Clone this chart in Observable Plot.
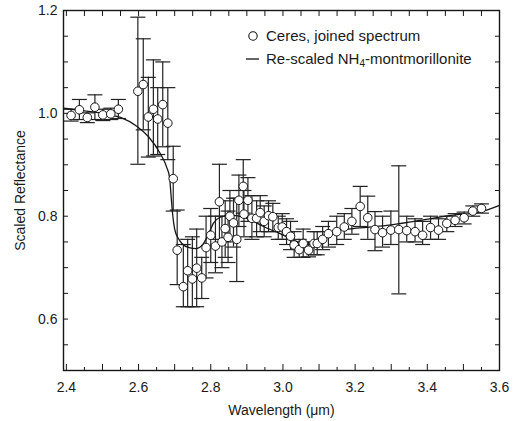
<!DOCTYPE html>
<html><head><meta charset="utf-8">
<script src="https://cdn.jsdelivr.net/npm/d3@7"></script>
<script src="https://cdn.jsdelivr.net/npm/@observablehq/plot@0.6"></script>
<style>
body{margin:0;background:#fff;font-family:"Liberation Sans",Arial,Helvetica,sans-serif;}
#wrap{position:relative;width:514px;height:421px;}
#legend{position:absolute;left:246px;top:24px;font-size:15px;color:#1a1a1a;line-height:23px;}
#legend .row{display:flex;align-items:center;white-space:nowrap;}
#legend svg{margin-right:4px;flex:none;}
#legend sub{font-size:10px;vertical-align:-3px;line-height:0;}
</style></head><body>
<div id="wrap">
  <div id="legend">
    <div class="row"><svg width="16" height="12"><circle cx="7" cy="6" r="4.2" fill="white" stroke="#111" stroke-width="1.1"/></svg><span>Ceres, joined spectrum</span></div>
    <div class="row"><svg width="16" height="12"><line x1="0" y1="6" x2="13" y2="6" stroke="#111" stroke-width="1.3"/></svg><span>Re-scaled NH<sub>4</sub>-montmorillonite</span></div>
  </div>
</div>
<script>
// Ceres joined spectrum (wavelength in µm, scaled reflectance, error bar low/high)
const wavelength = [2.413,2.436,2.458,2.479,2.501,2.523,2.544,
  2.598,2.613,2.627,2.641,2.653,2.667,2.681,2.696,
  2.707,2.724,2.736,2.749,2.761,2.775,2.787,
  2.800,2.813,2.824,2.831,2.840,2.848,2.853,2.863,2.872,2.878,2.890,2.892,2.903,2.914,2.927,2.937,2.948,2.960,2.972,2.987,
  2.998,3.010,3.021,3.031,3.045,3.056,3.071,3.086,3.095,3.110,3.126,3.149,3.170,3.191,
  3.214,3.235,3.255,3.276,3.299,3.321,3.343,3.366,3.387,3.409,3.431,3.454,3.477,3.502,3.526,3.550];
const reflectance = [0.996,1.007,0.992,1.012,0.997,0.999,1.008,
  1.043,1.056,0.993,1.008,0.989,1.017,0.981,0.873,
  0.734,0.663,0.694,0.678,0.699,0.680,0.739,
  0.763,0.742,0.828,0.750,0.776,0.759,0.800,0.787,0.755,0.831,0.858,0.804,0.831,0.796,0.796,0.807,0.790,0.801,0.799,0.778,
  0.779,0.770,0.761,0.744,0.735,0.747,0.734,0.747,0.747,0.755,0.766,0.770,0.779,0.790,
  0.819,0.797,0.774,0.768,0.773,0.774,0.772,0.770,0.763,0.778,0.773,0.786,0.792,0.797,0.810,0.815];
const errLow = [0.985,0.988,0.982,0.988,0.986,0.988,0.990,
  0.901,0.968,0.915,0.917,0.920,0.935,0.910,0.810,
  0.667,0.624,0.624,0.624,0.624,0.640,0.680,
  0.710,0.690,0.755,0.700,0.720,0.710,0.750,0.740,0.673,0.780,0.806,0.760,0.790,0.755,0.760,0.770,0.760,0.770,0.770,0.755,
  0.755,0.745,0.735,0.720,0.720,0.720,0.721,0.725,0.725,0.735,0.740,0.745,0.755,0.765,
  0.780,0.755,0.733,0.740,0.745,0.649,0.750,0.750,0.745,0.755,0.755,0.770,0.780,0.785,0.800,0.806];
const errHigh = [1.008,1.027,1.001,1.036,1.008,1.010,1.027,
  1.187,1.145,1.070,1.104,1.050,1.100,1.050,0.936,
  0.812,0.745,0.755,0.760,0.775,0.720,0.800,
  0.815,0.800,0.901,0.800,0.830,0.810,0.850,0.835,0.835,0.880,0.910,0.850,0.875,0.840,0.830,0.840,0.820,0.830,0.825,0.800,
  0.805,0.795,0.790,0.770,0.755,0.775,0.750,0.770,0.770,0.780,0.790,0.800,0.805,0.815,
  0.858,0.839,0.809,0.800,0.810,0.898,0.800,0.795,0.790,0.800,0.795,0.800,0.805,0.808,0.820,0.824];

// Re-scaled NH4-montmorillonite curve
const curveWavelength = [2.392,2.45,2.50,2.55,2.595,2.627,2.66,2.678,2.686,2.69,2.695,2.70,2.71,2.72,2.74,2.76,2.78,2.798,2.807,2.826,2.853,2.90,2.946,2.992,3.038,3.066,3.094,3.121,3.149,3.195,3.288,3.38,3.472,3.546,3.60];
const curveReflectance = [1.010,1.005,1.000,0.992,0.975,0.955,0.922,0.895,0.875,0.84,0.80,0.775,0.757,0.747,0.739,0.737,0.747,0.772,0.786,0.798,0.802,0.796,0.780,0.766,0.751,0.745,0.748,0.760,0.772,0.776,0.782,0.792,0.802,0.808,0.821];

// Axis ticks
const xTickLabels = [2.4,2.6,2.8,3.0,3.2,3.4,3.6];
const xMajorTicks = [2.4,2.5,2.6,2.7,2.8,2.9,3.0,3.1,3.2,3.3,3.4,3.5];
const xMinorTicks = [2.45,2.55,2.65,2.75,2.85,2.95,3.05,3.15,3.25,3.35,3.45,3.55];
const yTickLabels = [0.6,0.8,1.0,1.2];
const yTicks = [0.55,0.6,0.65,0.7,0.75,0.8,0.85,0.9,0.95,1.0,1.05,1.1,1.15];

const data = wavelength.map((w, i) => ({w, r: reflectance[i], lo: errLow[i], hi: errHigh[i]}));
const curve = curveWavelength.map((w, i) => ({w, r: curveReflectance[i]}));

const capSymbol = {draw(ctx, size) { const h = Math.sqrt(size / Math.PI); ctx.moveTo(-h, 0); ctx.lineTo(h, 0); }};
const ink = "#161616";

const chart = Plot.plot({
  width: 514, height: 421,
  marginLeft: 63, marginRight: 15, marginTop: 10, marginBottom: 51,
  style: {fontFamily: '"Liberation Sans", Arial, Helvetica, sans-serif', fontSize: "14px", color: "#1a1a1a", background: "white"},
  x: {domain: [2.392, 3.6]},
  y: {domain: [0.5, 1.2]},
  marks: [
    Plot.ruleX(data, {x: "w", y1: "lo", y2: "hi", stroke: "#222", strokeWidth: 1.2}),
    Plot.dot(data, {x: "w", y: "hi", symbol: capSymbol, r: 7.5, fill: "none", stroke: "#222", strokeWidth: 1.2}),
    Plot.dot(data, {x: "w", y: "lo", symbol: capSymbol, r: 7.5, fill: "none", stroke: "#222", strokeWidth: 1.2}),
    Plot.line(curve, {x: "w", y: "r", curve: "monotone-x", stroke: ink, strokeWidth: 1.3}),
    Plot.dot(data, {x: "w", y: "r", r: 4.3, fill: "white", stroke: ink, strokeWidth: 1}),
    Plot.axisX(xMajorTicks, {anchor: "bottom", tickSize: -6, fill: "none", label: null, stroke: ink}),
    Plot.axisX(xMinorTicks, {anchor: "bottom", tickSize: -3, fill: "none", label: null, stroke: ink}),
    Plot.axisX(xMajorTicks, {anchor: "top", tickSize: -5, fill: "none", label: null, stroke: ink}),
    Plot.axisX(xMinorTicks, {anchor: "top", tickSize: -5, fill: "none", label: null, stroke: ink}),
    Plot.axisY(yTicks, {anchor: "left", tickSize: -5, fill: "none", label: null, stroke: ink}),
    Plot.axisY(yTicks, {anchor: "right", tickSize: -5, fill: "none", label: null, stroke: ink}),
    Plot.axisX(xTickLabels, {anchor: "bottom", tickSize: 0, tickPadding: 12, tickFormat: d => d.toFixed(1),
      label: "Wavelength (μm)", labelAnchor: "center", labelOffset: 44, labelArrow: "none"}),
    Plot.axisY(yTickLabels, {anchor: "left", tickSize: 0, tickPadding: 6, tickFormat: d => d.toFixed(1),
      label: "Scaled Reflectance", labelAnchor: "center", labelOffset: 48, labelArrow: "none"}),
    Plot.frame({stroke: ink, strokeWidth: 1.4})
  ]
});
document.getElementById("wrap").prepend(chart);
</script>
</body></html>
